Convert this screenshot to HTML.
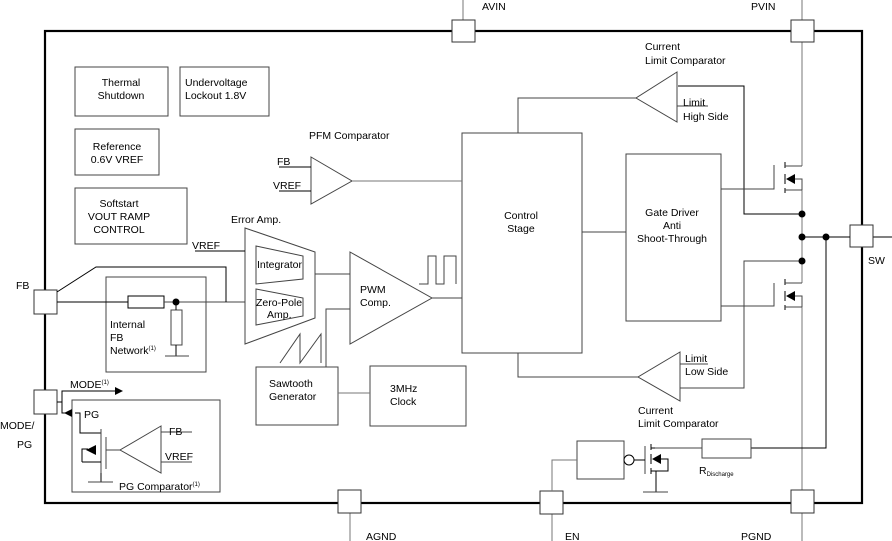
<!DOCTYPE html>
<html><head><meta charset="utf-8"><style>
html,body{margin:0;padding:0;background:#fff}
svg{display:block}
text{font-family:"Liberation Sans",sans-serif;font-size:10.5px;fill:#000}
.s{font-size:6px}
</style></head><body>
<svg width="892" height="541" viewBox="0 0 892 541" xmlns="http://www.w3.org/2000/svg">
<g fill="none" stroke="#000" stroke-width="1">
<rect x="45" y="31" width="817" height="472" stroke-width="2.2"/>
<line x1="463" y1="0" x2="463" y2="20" stroke="#777"/>
<line x1="802" y1="0" x2="802" y2="166" stroke="#777"/>
<line x1="802" y1="190" x2="802" y2="283" stroke="#777"/>
<line x1="802" y1="307" x2="802" y2="541" stroke="#777"/>
<line x1="350" y1="513" x2="350" y2="541" stroke="#777"/>
<line x1="552" y1="514" x2="552" y2="541" stroke="#777"/>
<line x1="873" y1="237" x2="892" y2="237"/>
<g fill="#fff" stroke="#333">
<rect x="452" y="20" width="23" height="22"/>
<rect x="791" y="20" width="23" height="22"/>
<rect x="850" y="225" width="23" height="22"/>
<rect x="791" y="490" width="23" height="23"/>
<rect x="540" y="491" width="23" height="23"/>
<rect x="338" y="490" width="23" height="23"/>
<rect x="34" y="290" width="23" height="24"/>
<rect x="34" y="390" width="23" height="24"/>
</g>
<g stroke="#444">
<rect x="75" y="67" width="93" height="49"/>
<rect x="180" y="67" width="89" height="49"/>
<rect x="75" y="129" width="84" height="46"/>
<rect x="75" y="188" width="112" height="56"/>
<rect x="462" y="133" width="120" height="220"/>
<rect x="626" y="154" width="95" height="167"/>
<rect x="256" y="367" width="82" height="58"/>
<rect x="370" y="366" width="96" height="60"/>
<rect x="106" y="277" width="100" height="95"/>
<rect x="72" y="400" width="148" height="92"/>
<rect x="577" y="441" width="47" height="38"/>
</g>
<polygon points="311,157 352,181 311,204" stroke="#444"/>
<line x1="279" y1="167" x2="311" y2="167"/>
<line x1="279" y1="191" x2="311" y2="191"/>
<line x1="352" y1="181" x2="462" y2="181" stroke="#777"/>
<polygon points="245,228 315,252 315,318 245,344" stroke="#444"/>
<polygon points="256,246 303,256 303,279 256,284" stroke="#444"/>
<polygon points="256,289 303,298 303,316 256,325" stroke="#444"/>
<line x1="195" y1="251" x2="245" y2="251"/>
<line x1="315" y1="274" x2="350" y2="274" stroke="#444"/>
<polygon points="350,252 432,298 350,344" stroke="#444"/>
<line x1="432" y1="298" x2="462" y2="298" stroke="#444"/>
<polyline points="419,284 428,284 428,256 436,256 436,284 444,284 444,256 456,256 456,284" stroke="#444" fill="none"/>
<polyline points="326,367 326,309 350,309" stroke="#444"/>
<polyline points="280,363 300,334 300,363 321,334 321,363" stroke="#444"/>
<line x1="338" y1="393" x2="370" y2="393" stroke="#777"/>
<line x1="57" y1="302" x2="128" y2="302"/>
<rect x="128" y="296" width="36" height="12"/>
<line x1="164" y1="302" x2="245" y2="302" stroke="#444"/>
<polyline points="57,292 96,267 226,267 226,302"/>
<rect x="171" y="310" width="11" height="35" stroke="#444"/>
<line x1="176" y1="302" x2="176" y2="310"/>
<line x1="176" y1="345" x2="176" y2="356"/>
<line x1="165" y1="356" x2="189" y2="356" stroke="#444"/>
<polyline points="57,402 62,402 62,391 115,391"/>
<polyline points="62,402 62,413 70,413"/>
<polyline points="75,413 80,413 80,433 101,433"/>
<line x1="101" y1="429" x2="101" y2="473" stroke="#444"/>
<line x1="106" y1="437" x2="106" y2="469" stroke="#444"/>
<line x1="106" y1="450" x2="120" y2="450" stroke="#444"/>
<polyline points="82,462 82,449 88,449"/>
<line x1="82" y1="462" x2="101" y2="462"/>
<line x1="101" y1="473" x2="101" y2="482"/>
<line x1="88" y1="482" x2="113" y2="482" stroke="#444"/>
<polygon points="161,426 120,450 161,473" stroke="#444"/>
<line x1="161" y1="432" x2="192" y2="432" stroke="#444"/>
<line x1="161" y1="462" x2="192" y2="462" stroke="#444"/>
<polygon points="677,72 636,98 677,122" stroke="#444"/>
<polyline points="636,98 518,98 518,133" stroke="#444"/>
<line x1="677" y1="106" x2="708" y2="106" stroke="#444"/>
<polyline points="678,86 744,86 744,214 802,214"/>
<polygon points="680,352 638,377 680,401" stroke="#444"/>
<polyline points="638,377 518,377 518,353" stroke="#444"/>
<line x1="680" y1="364" x2="708" y2="364" stroke="#444"/>
<polyline points="680,388 744,388 744,261 802,261" stroke="#444"/>
<line x1="582" y1="232" x2="626" y2="232" stroke="#444"/>
<polyline points="721,189 774,189 774,165" stroke="#444"/>
<line x1="785" y1="162" x2="785" y2="168"/>
<line x1="785" y1="174" x2="785" y2="184"/>
<line x1="785" y1="188" x2="785" y2="193"/>
<line x1="785" y1="166" x2="802" y2="166" stroke="#444"/>
<line x1="785" y1="190" x2="802" y2="190" stroke="#444"/>
<polyline points="795,179 802,179 802,190" stroke="#444"/>
<polyline points="721,306 774,306 774,283" stroke="#444"/>
<line x1="785" y1="279" x2="785" y2="285"/>
<line x1="785" y1="291" x2="785" y2="301"/>
<line x1="785" y1="305" x2="785" y2="310"/>
<line x1="785" y1="283" x2="802" y2="283" stroke="#444"/>
<line x1="785" y1="307" x2="802" y2="307" stroke="#444"/>
<polyline points="795,296 802,296 802,307" stroke="#444"/>
<line x1="802" y1="237" x2="850" y2="237"/>
<polyline points="826,237 826,448 751,448"/>
<rect x="702" y="439" width="49" height="19" stroke="#444"/>
<line x1="655" y1="448" x2="702" y2="448" stroke="#444"/>
<line x1="645" y1="446" x2="645" y2="474" stroke="#444"/>
<line x1="651" y1="444" x2="651" y2="450"/>
<line x1="651" y1="454" x2="651" y2="464"/>
<line x1="651" y1="468" x2="651" y2="474"/>
<line x1="651" y1="448" x2="655" y2="448"/>
<polyline points="660,459 668,459 668,471 651,471"/>
<line x1="656" y1="471" x2="656" y2="492"/>
<line x1="643" y1="492" x2="668" y2="492" stroke="#444"/>
<circle cx="629" cy="460" r="5"/>
<line x1="634" y1="460" x2="645" y2="460"/>
<polyline points="552,491 552,460 577,460" stroke="#777"/>
</g>
<g fill="#000">
<circle cx="176" cy="302" r="3.5"/>
<circle cx="802" cy="214" r="3.5"/>
<circle cx="802" cy="237" r="3.5"/>
<circle cx="802" cy="261" r="3.5"/>
<circle cx="826" cy="237" r="3.5"/>
<polygon points="115,387 123,391 115,395"/>
<polygon points="64,413 72,409 72,417"/>
<polygon points="86,450 96,445 96,455"/>
<polygon points="786,179 795,174 795,184"/>
<polygon points="786,296 795,291 795,301"/>
<polygon points="652,459 661,454 661,464"/>
</g>
<text x="121" y="86" text-anchor="middle">Thermal</text>
<text x="121" y="99" text-anchor="middle">Shutdown</text>
<text x="185" y="86">Undervoltage</text>
<text x="185" y="99">Lockout 1.8V</text>
<text x="117" y="150" text-anchor="middle">Reference</text>
<text x="117" y="163" text-anchor="middle">0.6V VREF</text>
<text x="119" y="207" text-anchor="middle">Softstart</text>
<text x="119" y="220" text-anchor="middle">VOUT RAMP</text>
<text x="119" y="233" text-anchor="middle">CONTROL</text>
<text x="309" y="139">PFM Comparator</text>
<text x="277" y="165">FB</text>
<text x="273" y="189">VREF</text>
<text x="231" y="223">Error Amp.</text>
<text x="192" y="249">VREF</text>
<text x="257" y="268">Integrator</text>
<text x="256" y="306">Zero-Pole</text>
<text x="267" y="318">Amp.</text>
<text x="360" y="293">PWM</text>
<text x="360" y="306">Comp.</text>
<text x="269" y="387">Sawtooth</text>
<text x="269" y="400">Generator</text>
<text x="390" y="392">3MHz</text>
<text x="390" y="405">Clock</text>
<text x="110" y="328">Internal</text>
<text x="110" y="341">FB</text>
<text x="110" y="354">Network<tspan class="s" dy="-4">(1)</tspan></text>
<text x="16" y="289">FB</text>
<text x="0" y="429">MODE/</text>
<text x="17" y="448">PG</text>
<text x="70" y="388">MODE<tspan class="s" dy="-4">(1)</tspan></text>
<text x="84" y="418">PG</text>
<text x="169" y="435">FB</text>
<text x="165" y="460">VREF</text>
<text x="119" y="490">PG Comparator<tspan class="s" dy="-4">(1)</tspan></text>
<text x="521" y="219" text-anchor="middle">Control</text>
<text x="521" y="232" text-anchor="middle">Stage</text>
<text x="672" y="216" text-anchor="middle">Gate Driver</text>
<text x="672" y="229" text-anchor="middle">Anti</text>
<text x="672" y="242" text-anchor="middle">Shoot-Through</text>
<text x="645" y="50">Current</text>
<text x="645" y="64">Limit Comparator</text>
<text x="683" y="106">Limit</text>
<text x="683" y="120">High Side</text>
<text x="685" y="362">Limit</text>
<text x="685" y="375">Low Side</text>
<text x="638" y="414">Current</text>
<text x="638" y="427">Limit Comparator</text>
<text x="699" y="474">R<tspan class="s" dy="2">Discharge</tspan></text>
<text x="482" y="10">AVIN</text>
<text x="751" y="10">PVIN</text>
<text x="868" y="264">SW</text>
<text x="366" y="540">AGND</text>
<text x="565" y="540">EN</text>
<text x="741" y="540">PGND</text>
</svg>
</body></html>
